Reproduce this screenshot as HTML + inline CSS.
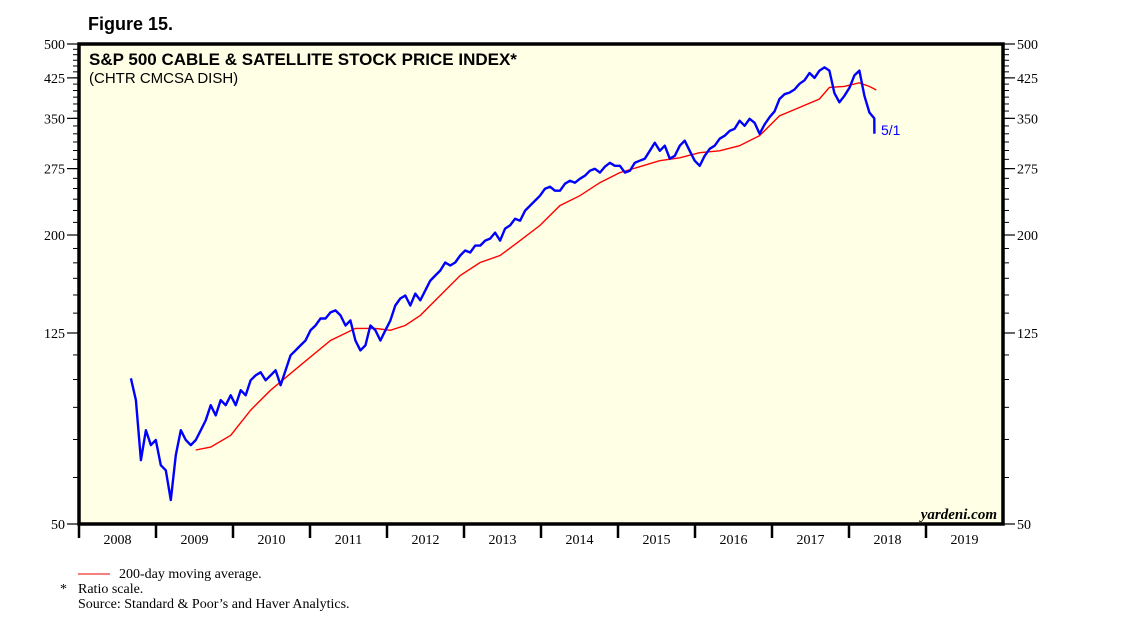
<!DOCTYPE html>
<html><head><meta charset="utf-8">
<style>
body{margin:0;background:#fff;width:1138px;height:632px;overflow:hidden}
svg{display:block}
.ser{font-family:"Liberation Serif",serif}
.san{font-family:"Liberation Sans",sans-serif}
</style></head>
<body>
<svg id="chart" width="1138" height="632" viewBox="0 0 1138 632">
<text x="88" y="30" class="san" font-size="18" font-weight="bold">Figure 15.</text>
<rect x="79" y="44" width="924" height="480" fill="#ffffe6"/>
<g id="series"></g>
<rect x="79" y="44" width="924" height="480" fill="none" stroke="#000" stroke-width="3.5"/>
<text x="89" y="65" class="san" font-size="17" font-weight="bold">S&amp;P 500 CABLE &amp; SATELLITE STOCK PRICE INDEX*</text>
<text x="89" y="83" class="san" font-size="15">(CHTR CMCSA DISH)</text>
<text x="881" y="135" class="san" font-size="14" fill="#0000ff">5/1</text>
<text x="997" y="519" class="ser" font-size="15" font-weight="bold" font-style="italic" text-anchor="end">yardeni.com</text>
<line x1="78" y1="574" x2="110" y2="574" stroke="#e00" stroke-width="1"/>
<text x="119" y="578" class="ser" font-size="14">200-day moving average.</text>
<text x="60" y="593" class="ser" font-size="14">*</text>
<text x="78" y="593" class="ser" font-size="14">Ratio scale.</text>
<text x="78" y="608" class="ser" font-size="14">Source: Standard &amp; Poor’s and Haver Analytics.</text>
</svg>
<script>
const years=[2008,2009,2010,2011,2012,2013,2014,2015,2016,2017,2018,2019];
const yTicks=[50,125,200,275,350,425,500];
const priceStart=2008.674, priceStep=0.0648;
const priceValues=[
100.6,90.6,67.9,78.4,73.0,74.8,66.3,64.7,56.1,69.6,
78.4,74.8,73.0,74.8,78.4,82.2,88.4,84.2,90.6,88.4,
92.7,88.4,95.0,92.7,99.6,102,103.5,99.6,102,104.5,
97.3,104.5,112.3,115,117.8,120.6,126.6,129.6,134,134,
138,139.3,136,129.6,132.8,120.6,115,117.8,129.6,126.6,
120.6,126.6,132.8,142.6,147.5,149.6,142.6,151,146.2,153.3,
160.7,164.7,168.7,175.3,172.8,175.3,181.3,185.7,183.9,190.1,
190.1,194.7,196.6,202.3,194.7,206.2,209.4,216.3,214.2,224.8,
230.3,235.9,241.5,249.7,252.2,247.4,247.4,255.8,259.5,257,
262,265.8,272.3,274.8,269.8,277.5,282.8,278.8,278.8,269.8,
272.3,282.8,285.6,288.4,299.6,311.2,299.6,306.9,288.4,292.4,
306.9,314.4,299.6,285.6,278.8,292.4,302.5,306.9,317.4,322,
329.6,332.9,346,337.7,349.3,342.6,325,340,352,362,
384,393,396,402,413,420,435,425,440,447,
440,395,378,390,405,430,440,390,360,350,
325];
const maDates=[2009.516,2009.711,2009.970,2010.229,2010.488,2010.877,2011.266,2011.589,2011.849,2012.043,2012.237,2012.432,2012.691,2012.950,2013.209,2013.468,2013.728,2013.987,2014.246,2014.505,2014.764,2015.023,2015.283,2015.542,2015.801,2016.060,2016.319,2016.578,2016.838,2017.097,2017.356,2017.615,2017.745,2017.939,2018.134,2018.263,2018.354];
const maValues=[71.3,72.3,76.5,86.3,95.0,107.1,120.6,127.8,127.8,126.6,129.6,136,149.6,164.7,175.3,181.3,194.7,209.4,230.3,241.5,257,269.8,277.5,285.6,289.7,296.8,299.6,306.9,322,354.2,368.7,384,406,408,415,408,401];

const X0=79,X1=1003,Y0=44,Y1=524;
const xs=t=>X0+(t-2008)/12*(X1-X0);
const ys=v=>Y0+(Math.log10(500)-Math.log10(v))/(Math.log10(500)-Math.log10(50))*(Y1-Y0);
const NS="http://www.w3.org/2000/svg";
const svg=document.getElementById('chart');
const series=document.getElementById('series');
function mk(tag,attrs,parent){const e=document.createElementNS(NS,tag);for(const k in attrs)e.setAttribute(k,attrs[k]);parent.appendChild(e);return e;}

for(let v=50;v<=500.01;v+=12.5){
  const y=ys(v);
  const l=mk('line',{x1:X0-6,x2:X0,y1:y,y2:y,stroke:'#000','stroke-width':1},svg);
  
  
  const r=mk('line',{x1:X1,x2:X1+6,y1:y,y2:y,stroke:'#000','stroke-width':1},svg);
  
  
}
yTicks.forEach(v=>{
  const y=ys(v);
  const l=mk('line',{x1:X0-12,x2:X0,y1:y,y2:y,stroke:'#000','stroke-width':1.2},svg);
  
  
  const r=mk('line',{x1:X1,x2:X1+12,y1:y,y2:y,stroke:'#000','stroke-width':1.2},svg);
  
  
  const tl=mk('text',{x:X0-14,y:y+5,'text-anchor':'end','font-size':14,class:'ser'},svg);
  tl.textContent=v;
  
  
  const tr=mk('text',{x:X1+14,y:y+5,'font-size':14,class:'ser'},svg);
  tr.textContent=v;
  
  
});
years.forEach(yr=>{
  const x=xs(yr);
  const t=mk('line',{x1:x,x2:x,y1:Y1,y2:Y1+14,stroke:'#000','stroke-width':2.5},svg);
  
  
  const lb=mk('text',{x:xs(yr+0.5),y:Y1+20,'text-anchor':'middle','font-size':14,class:'ser'},svg);
  lb.textContent=yr;
  
  
});
let d2='';
maValues.forEach((v,i)=>{d2+=(i?'L':'M')+xs(maDates[i]).toFixed(1)+','+ys(v).toFixed(1);});
const ml=mk('path',{d:d2,fill:'none',stroke:'#ff0000','stroke-width':1.4},series);


let d='';
priceValues.forEach((v,i)=>{const t=priceStart+i*priceStep;d+=(i?'L':'M')+xs(Math.min(t,2018.33)).toFixed(1)+','+ys(v).toFixed(1);});
const pl=mk('path',{d:d,fill:'none',stroke:'#0000ff','stroke-width':2.4,'stroke-linejoin':'round'},series);


</script>
</body></html>
